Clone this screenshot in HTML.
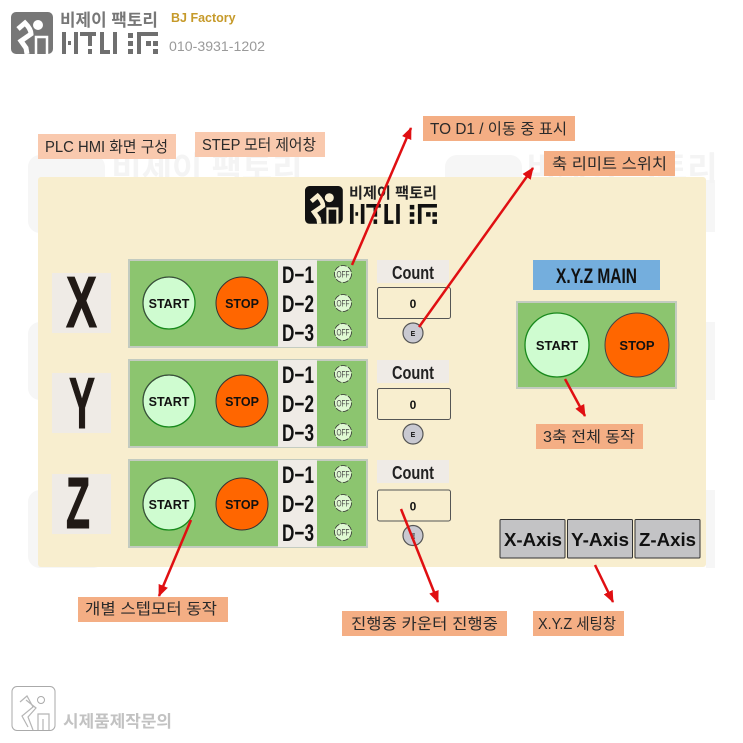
<!DOCTYPE html>
<html><head><meta charset="utf-8"><style>
html,body{margin:0;padding:0;background:#fff;width:743px;height:743px;overflow:hidden}
svg{display:block}
text{font-family:"Liberation Sans","Noto Sans CJK KR",sans-serif}
.lb{font-size:15.5px;fill:#2a2a2a;text-anchor:start}
.bd{font-weight:700;text-anchor:middle;fill:#111}
.d{font-size:24px;font-weight:700;fill:#111;text-anchor:start}
.off{font-size:9px;fill:#444;text-anchor:start}
.ax{font-weight:700;fill:#211a16;font-size:72px;stroke:#211a16;stroke-width:1}
</style></head><body>
<svg width="743" height="743" viewBox="0 0 743 743" xmlns="http://www.w3.org/2000/svg">
<defs>
<marker id="a" markerWidth="13" markerHeight="12" refX="11" refY="5" orient="auto" markerUnits="userSpaceOnUse"><path d="M0 0L12 5L0 10Z" fill="#e00f12"/></marker>
<g id="icon">
<rect x="0" y="0" width="42" height="42" rx="5"/>
<path d="M7 17L14 11C17 14 20 18 20 22L10 29L15 36L16 42" fill="none" stroke="var(--c)" stroke-width="5"/>
<circle cx="27" cy="13" r="5" fill="var(--c)"/>
<path d="M25 42V25H36V42" fill="none" stroke="var(--c)" stroke-width="2.500"/>
</g>
<g id="blocks">
<rect x="62" y="32" width="4" height="22"/><rect x="68" y="41" width="3" height="4"/><rect x="74" y="32" width="4" height="22"/>
<rect x="80" y="32" width="16" height="4"/><rect x="88" y="36" width="4" height="10"/><rect x="88" y="49" width="4" height="5"/>
<rect x="100" y="32" width="4" height="22"/><rect x="100" y="50" width="10" height="4"/><rect x="113" y="32" width="4" height="22"/>
<rect x="128" y="33" width="5" height="5"/><rect x="128" y="41" width="5" height="5"/><rect x="128" y="49" width="5" height="5"/>
<rect x="137" y="32" width="4" height="22"/><rect x="137" y="32" width="21" height="4"/><rect x="146" y="41" width="5" height="5"/><rect x="153" y="41" width="5" height="5"/><rect x="153" y="49" width="5" height="5"/>
</g>
<g id="row">
<rect x="0" y="0" width="238" height="87" fill="#8cc56f" stroke="#c3cbc0" stroke-width="2"/>
<rect x="149" y="0" width="39" height="87" fill="#efebe6"/>
<text x="153" y="23" class="d" textLength="32" lengthAdjust="spacingAndGlyphs">D−1</text>
<text x="153" y="52" class="d" textLength="32" lengthAdjust="spacingAndGlyphs">D−2</text>
<text x="153" y="81" class="d" textLength="32" lengthAdjust="spacingAndGlyphs">D−3</text>
<g fill="#dff8d2" stroke="#333" stroke-width=".8" stroke-dasharray="6 1.500">
<circle cx="214" cy="14" r="8.500"/><circle cx="214" cy="43" r="8.500"/><circle cx="214" cy="72" r="8.500"/>
</g>
<text x="207.500" y="17.500" class="off" textLength="13" lengthAdjust="spacingAndGlyphs">OFF</text>
<text x="207.500" y="46.500" class="off" textLength="13" lengthAdjust="spacingAndGlyphs">OFF</text>
<text x="207.500" y="75.500" class="off" textLength="13" lengthAdjust="spacingAndGlyphs">OFF</text>
<rect x="248" y="0" width="72" height="23" fill="#efebe6"/>
<text x="263" y="19" font-size="18" font-weight="700" fill="#222" textLength="42" lengthAdjust="spacingAndGlyphs">Count</text>
</g>
<g id="btns">
<circle cx="40" cy="0" r="26" fill="#cffcd0" stroke="#188a1c" stroke-width="1.300"/>
<path d="M21.600 18.400A26 26 0 0 1 58.400 -18.400" fill="none" stroke="#444" stroke-width="1"/>
<circle cx="113" cy="0" r="26" fill="#ff6600" stroke="#333" stroke-width="1"/>
<text x="40" y="5" class="bd" font-size="12.500">START</text>
<text x="113" y="5" class="bd" font-size="12.500">STOP</text>
</g>
<g id="cnt">
<rect x="377.500" y="0.500" width="73" height="31" rx="2" fill="#f8eecf" stroke="#555" stroke-width="1"/>
<text x="413" y="21" class="bd" font-size="12">0</text>
<circle cx="413" cy="46" r="10" fill="#c9c9d1" stroke="#555" stroke-width="1.200"/>
<text x="413" y="49" class="bd" font-size="7">E</text>
</g>
</defs>

<!-- faint watermarks -->
<g fill="#f6f6f6">
<rect x="28" y="155" width="77" height="78" rx="12"/><rect x="28" y="322" width="77" height="78" rx="12"/><rect x="28" y="490" width="77" height="78" rx="12"/>
<rect x="445" y="155" width="77" height="78" rx="12"/>
<rect x="706" y="322" width="9" height="78"/><rect x="706" y="490" width="9" height="78"/><rect x="706" y="180" width="9" height="52"/>
</g>
<text x="207" y="180" font-size="33" font-weight="700" text-anchor="middle" fill="#f4f4f4">비제이 팩토리</text>
<text x="622" y="180" font-size="33" font-weight="700" text-anchor="middle" fill="#f4f4f4">비제이 팩토리</text>

<!-- top logo -->
<use href="#icon" x="11" y="12" fill="#777" style="--c:#fff"/>
<text x="60" y="26" font-size="17" font-weight="700" fill="#777" textLength="98" lengthAdjust="spacingAndGlyphs">비제이 팩토리</text>
<use href="#blocks" fill="#6f6f6f"/>
<text x="171" y="22" font-size="12.500" font-weight="700" fill="#c69a2a">BJ Factory</text>
<text x="169" y="51" font-size="14" fill="#9a9a9a" textLength="96" lengthAdjust="spacingAndGlyphs">010-3931-1202</text>

<!-- panel -->
<rect x="38" y="177" width="668" height="390" rx="3" fill="#f8eecf"/>

<!-- panel logo -->
<g transform="translate(305 186) scale(.9)"><use href="#icon" fill="#111" style="--c:#f8eecf"/></g>
<text x="349" y="198" font-size="15" font-weight="700" fill="#222" textLength="88" lengthAdjust="spacingAndGlyphs">비제이 팩토리</text>
<g transform="translate(293.800 175) scale(.906)"><use href="#blocks" fill="#111"/></g>

<!-- axis letters -->
<rect x="52" y="273" width="59" height="60" fill="#efebe6"/>
<rect x="52" y="373" width="59" height="60" fill="#efebe6"/>
<rect x="52" y="474" width="59" height="60" fill="#efebe6"/>
<text x="66" y="327" class="ax" textLength="31" lengthAdjust="spacingAndGlyphs">X</text>
<text x="69" y="428" class="ax" textLength="26" lengthAdjust="spacingAndGlyphs">Y</text>
<text x="66" y="528" class="ax" textLength="24" lengthAdjust="spacingAndGlyphs">Z</text>

<!-- rows -->
<use href="#row" x="129" y="260"/>
<use href="#row" x="129" y="360"/>
<use href="#row" x="129" y="460"/>
<use href="#btns" x="129" y="303"/>
<use href="#btns" x="129" y="401"/>
<use href="#btns" x="129" y="504"/>
<use href="#cnt" y="287"/>
<use href="#cnt" y="388"/>
<use href="#cnt" y="489.500"/>

<!-- main -->
<rect x="533" y="260" width="127" height="30" fill="#74aedd"/>
<text x="556" y="283" font-size="21" font-weight="700" fill="#111" textLength="81" lengthAdjust="spacingAndGlyphs">X.Y.Z MAIN</text>
<rect x="517" y="302" width="159" height="86" fill="#8cc56f" stroke="#c3cbc0" stroke-width="2"/>
<circle cx="557" cy="345" r="32" fill="#cffcd0" stroke="#188a1c" stroke-width="1.300"/>
<circle cx="637" cy="345" r="32" fill="#ff6600" stroke="#444" stroke-width="1"/>
<text x="557" y="350" class="bd" font-size="13">START</text>
<text x="637" y="350" class="bd" font-size="13">STOP</text>

<!-- axis buttons -->
<g fill="#c3c3c5" stroke="#333" stroke-width="1">
<rect x="500" y="519.500" width="65" height="38.500" rx="1"/>
<rect x="567.500" y="519.500" width="65" height="38.500" rx="1"/>
<rect x="635" y="519.500" width="65" height="38.500" rx="1"/>
</g>
<text x="533" y="546" class="bd" font-size="18.500" textLength="58" lengthAdjust="spacingAndGlyphs">X-Axis</text>
<text x="600" y="546" class="bd" font-size="18.500" textLength="58" lengthAdjust="spacingAndGlyphs">Y-Axis</text>
<text x="667.500" y="546" class="bd" font-size="18.500" textLength="57" lengthAdjust="spacingAndGlyphs">Z-Axis</text>

<!-- labels -->
<rect x="38" y="134" width="138" height="25" fill="#f9c9ae"/>
<rect x="195" y="132" width="130" height="25" fill="#f9c9ae"/>
<rect x="423" y="116" width="152" height="25" fill="#f4ae84"/>
<rect x="544" y="151" width="131" height="25" fill="#f4ae84"/>
<rect x="536" y="424" width="107" height="25" fill="#f4ae84"/>
<rect x="78" y="597" width="150" height="25" fill="#f4ae84"/>
<rect x="342" y="611" width="165" height="25" fill="#f4ae84"/>
<rect x="533" y="611" width="91" height="25" fill="#f4ae84"/>
<text x="45" y="152" class="lb" textLength="123" lengthAdjust="spacingAndGlyphs">PLC HMI 화면 구성</text>
<text x="202" y="150" class="lb" textLength="114" lengthAdjust="spacingAndGlyphs">STEP 모터 제어창</text>
<text x="430" y="134" class="lb" textLength="137" lengthAdjust="spacingAndGlyphs">TO D1 / 이동 중 표시</text>
<text x="552" y="169" class="lb" textLength="115" lengthAdjust="spacingAndGlyphs">축 리미트 스위치</text>
<text x="543" y="442" class="lb" textLength="92" lengthAdjust="spacingAndGlyphs">3축 전체 동작</text>
<text x="85" y="614" class="lb" textLength="132" lengthAdjust="spacingAndGlyphs">개별 스텝모터 동작</text>
<text x="351" y="629" class="lb" textLength="147" lengthAdjust="spacingAndGlyphs">진행중 카운터 진행중</text>
<text x="538" y="629" class="lb" textLength="78" lengthAdjust="spacingAndGlyphs">X.Y.Z 세팅창</text>

<!-- arrows -->
<g stroke="#e00f12" stroke-width="2.500" fill="none" marker-end="url(#a)">
<line x1="352" y1="265" x2="411" y2="128"/>
<line x1="419" y1="327" x2="533" y2="168"/>
<line x1="565" y1="379" x2="585" y2="416"/>
<line x1="191" y1="520" x2="159" y2="596"/>
<line x1="401" y1="509" x2="438" y2="602"/>
<line x1="595" y1="565" x2="613" y2="602"/>
</g>

<!-- bottom logo -->
<rect x="12" y="686.500" width="43" height="44" rx="5" fill="#fff" stroke="#aaa" stroke-width="1"/>
<path d="M20 702L27 696L33 707L22 716L28 727M26 700L36 708L28 717L33 730M38 730V714H49V730M43 730V719" fill="none" stroke="#b5b5b5" stroke-width="1.200"/>
<circle cx="41" cy="700" r="3.500" fill="none" stroke="#aaa" stroke-width="1"/>
<text x="63" y="727" font-size="16.500" font-weight="700" fill="#c2c2c2" textLength="109" lengthAdjust="spacingAndGlyphs">시제품제작문의</text>
</svg>
</body></html>
